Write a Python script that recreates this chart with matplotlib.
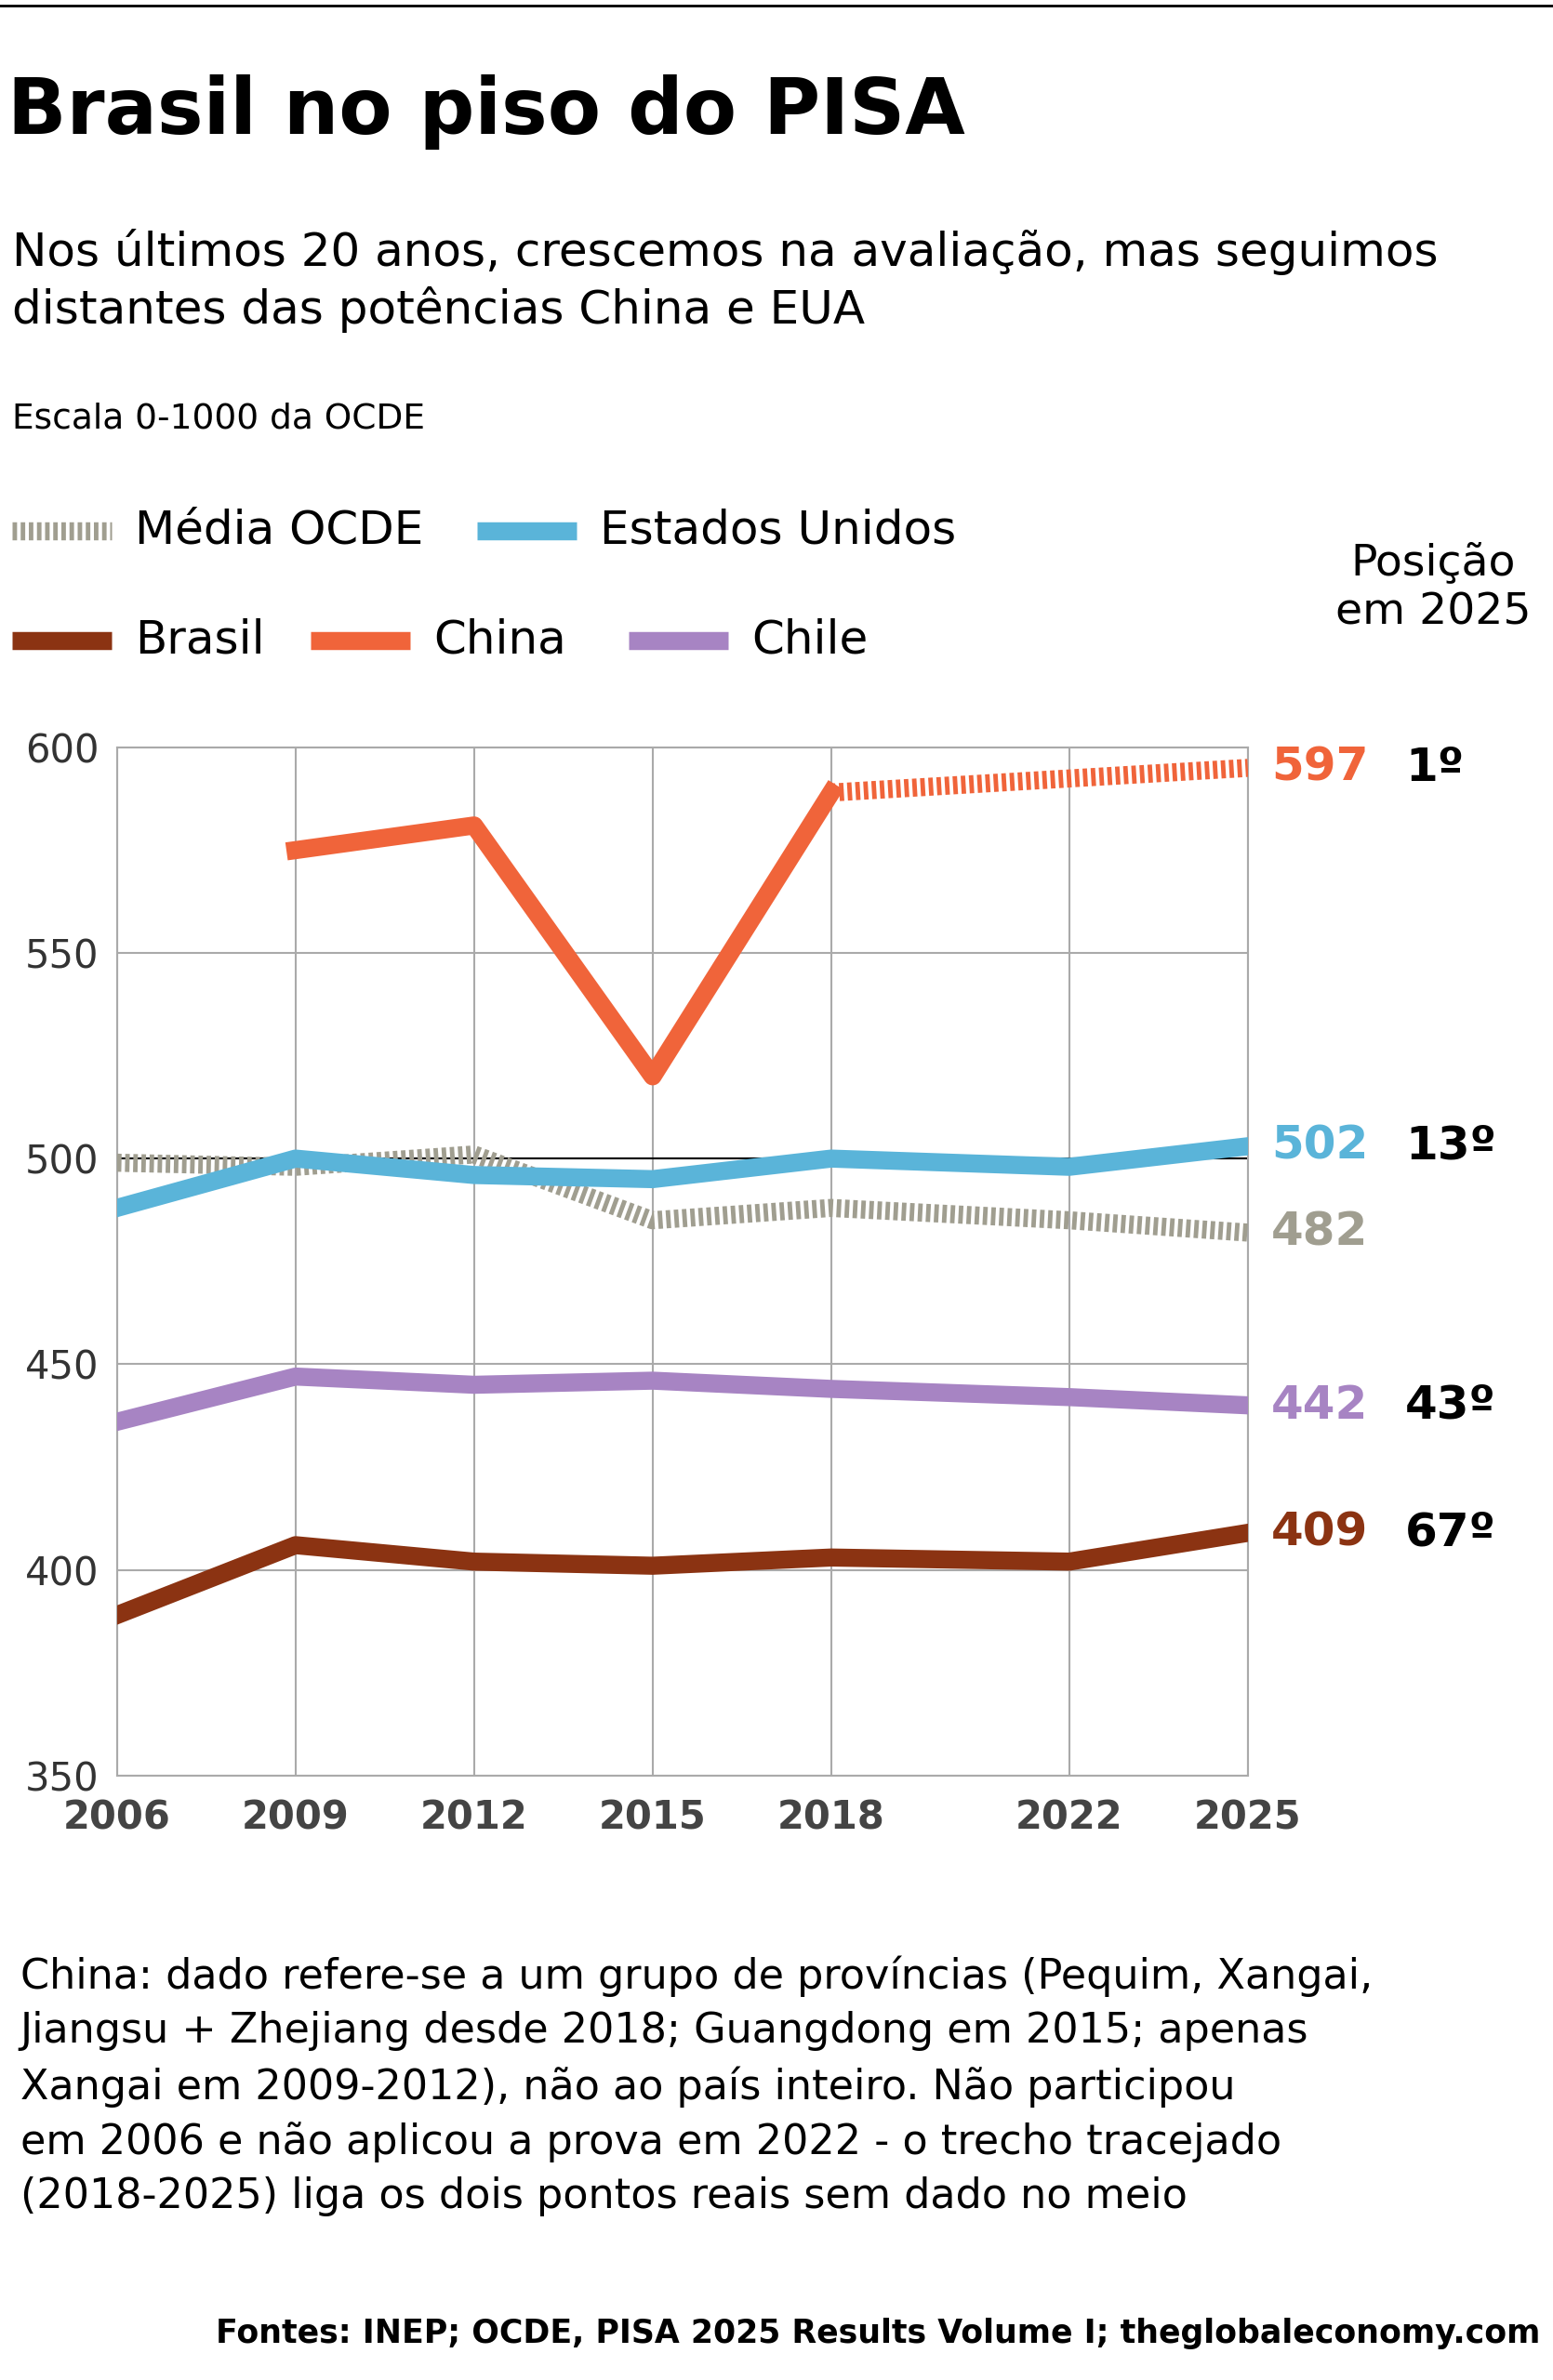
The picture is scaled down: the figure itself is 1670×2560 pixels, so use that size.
import matplotlib.pyplot as plt
from matplotlib.lines import Line2D

NARROW = ["Liberation Sans Narrow", "DejaVu Sans"]
plt.rcParams["font.family"] = NARROW

anos = [2006, 2009, 2012, 2015, 2018, 2022, 2025]
brasil = [389, 406, 402, 401, 403, 402, 409]
chile = [436, 447, 445, 446, 444, 442, 440]
eua = [488, 500, 496, 495, 500, 498, 503]
ocde = [499, 498, 501, 485, 488, 485, 482]
china_anos = [2009, 2012, 2015, 2018]
china = [575, 581, 520, 589]
china_tracejado_anos = [2018, 2025]
china_tracejado = [589, 595]

rotulos = [("597", 595, "#f0643a", "1º"), ("502", 503, "#5ab4d9", "13º"),
           ("482", 482, "#a09e90", ""), ("442", 440, "#a784c3", "43º"),
           ("409", 409, "#8b3312", "67º")]

c_bra, c_chi, c_eua, c_ocde, c_chile = "#8b3312", "#f0643a", "#5ab4d9", "#a09e90", "#a784c3"

fig = plt.figure(figsize=(16.7, 25.6), dpi=100)
ax = fig.add_axes([0.0753, 0.254, 0.7282, 0.432])

lw = 14
ax.plot(anos, ocde, color=c_ocde, lw=lw, linestyle=(0, (0.25, 0.2)), solid_capstyle="butt", zorder=3)
ax.plot(anos, eua, color=c_eua, lw=lw, zorder=4)
ax.plot(anos, chile, color=c_chile, lw=lw, zorder=4)
ax.plot(anos, brasil, color=c_bra, lw=lw, zorder=4)
ax.plot(china_anos, china, color=c_chi, lw=lw, zorder=4)
ax.plot(china_tracejado_anos, china_tracejado, color=c_chi, lw=lw, linestyle=(0, (0.25, 0.2)), zorder=4)
ax.axhline(500, color="black", lw=1.5, zorder=2)

ax.set_xlim(2006, 2025)
ax.set_ylim(350, 600)
ax.set_xticks(anos)
ax.set_xticklabels([str(a) for a in anos], fontsize=30, fontweight="bold", color="#444444")
ax.set_yticks([350, 400, 450, 500, 550, 600])
ax.tick_params(axis="y", labelsize=30, length=0, pad=14, labelcolor="#333333")
ax.tick_params(axis="x", length=0, pad=18)
ax.grid(True, color="#aaaaaa", lw=1.5)
for s in ax.spines.values():
    s.set_color("#aaaaaa")
    s.set_linewidth(1.5)

for txt, y, cor, pos in rotulos:
    ax.annotate(txt, (2025, y), xytext=(18, 0), textcoords="offset points", color=cor,
                fontsize=36, fontweight="bold", va="center", annotation_clip=False)
    if pos:
        ax.annotate(pos, (2025, y), xytext=(122, 0), textcoords="offset points", color="black",
                    fontsize=36, fontweight="bold", va="center", annotation_clip=False)

# cabeçalho
fig.add_artist(Line2D([0, 1], [0.9975, 0.9975], color="black", lw=2))
fig.text(0.005, 0.953, "Brasil no piso do PISA", fontsize=60, fontweight="bold", va="center")
fig.text(0.008, 0.882, "Nos últimos 20 anos, crescemos na avaliação, mas seguimos\ndistantes das potências China e EUA",
         fontsize=36, va="center", linespacing=1.3)
fig.text(0.008, 0.824, "Escala 0-1000 da OCDE", fontsize=27, va="center")
fig.text(0.923, 0.753, "Posição\nem 2025", fontsize=34, ha="center", va="center", linespacing=1.25)

legenda = [(0.008, 0.777, c_ocde, "Média OCDE", True), (0.307, 0.777, c_eua, "Estados Unidos", False),
           (0.008, 0.731, c_bra, "Brasil", False), (0.200, 0.731, c_chi, "China", False),
           (0.405, 0.731, c_chile, "Chile", False)]
for x, y, cor, nome, trac in legenda:
    fig.add_artist(Line2D([x, x + 0.064], [y, y], color=cor, lw=14,
                          linestyle=(0, (0.25, 0.2)) if trac else "-", solid_capstyle="butt"))
    fig.text(x + 0.079, y, nome, fontsize=36, va="center")

fig.text(0.013, 0.1235,
         "China: dado refere-se a um grupo de províncias (Pequim, Xangai,\n"
         "Jiangsu + Zhejiang desde 2018; Guangdong em 2015; apenas\n"
         "Xangai em 2009-2012), não ao país inteiro. Não participou\n"
         "em 2006 e não aplicou a prova em 2022 - o trecho tracejado\n"
         "(2018-2025) liga os dois pontos reais sem dado no meio",
         fontsize=32, va="center", linespacing=1.45)
fig.text(0.992, 0.0195, "Fontes: INEP; OCDE, PISA 2025 Results Volume I; theglobaleconomy.com",
         fontsize=25, fontweight="bold", ha="right", va="center")

fig.savefig("out.png", dpi=100)
